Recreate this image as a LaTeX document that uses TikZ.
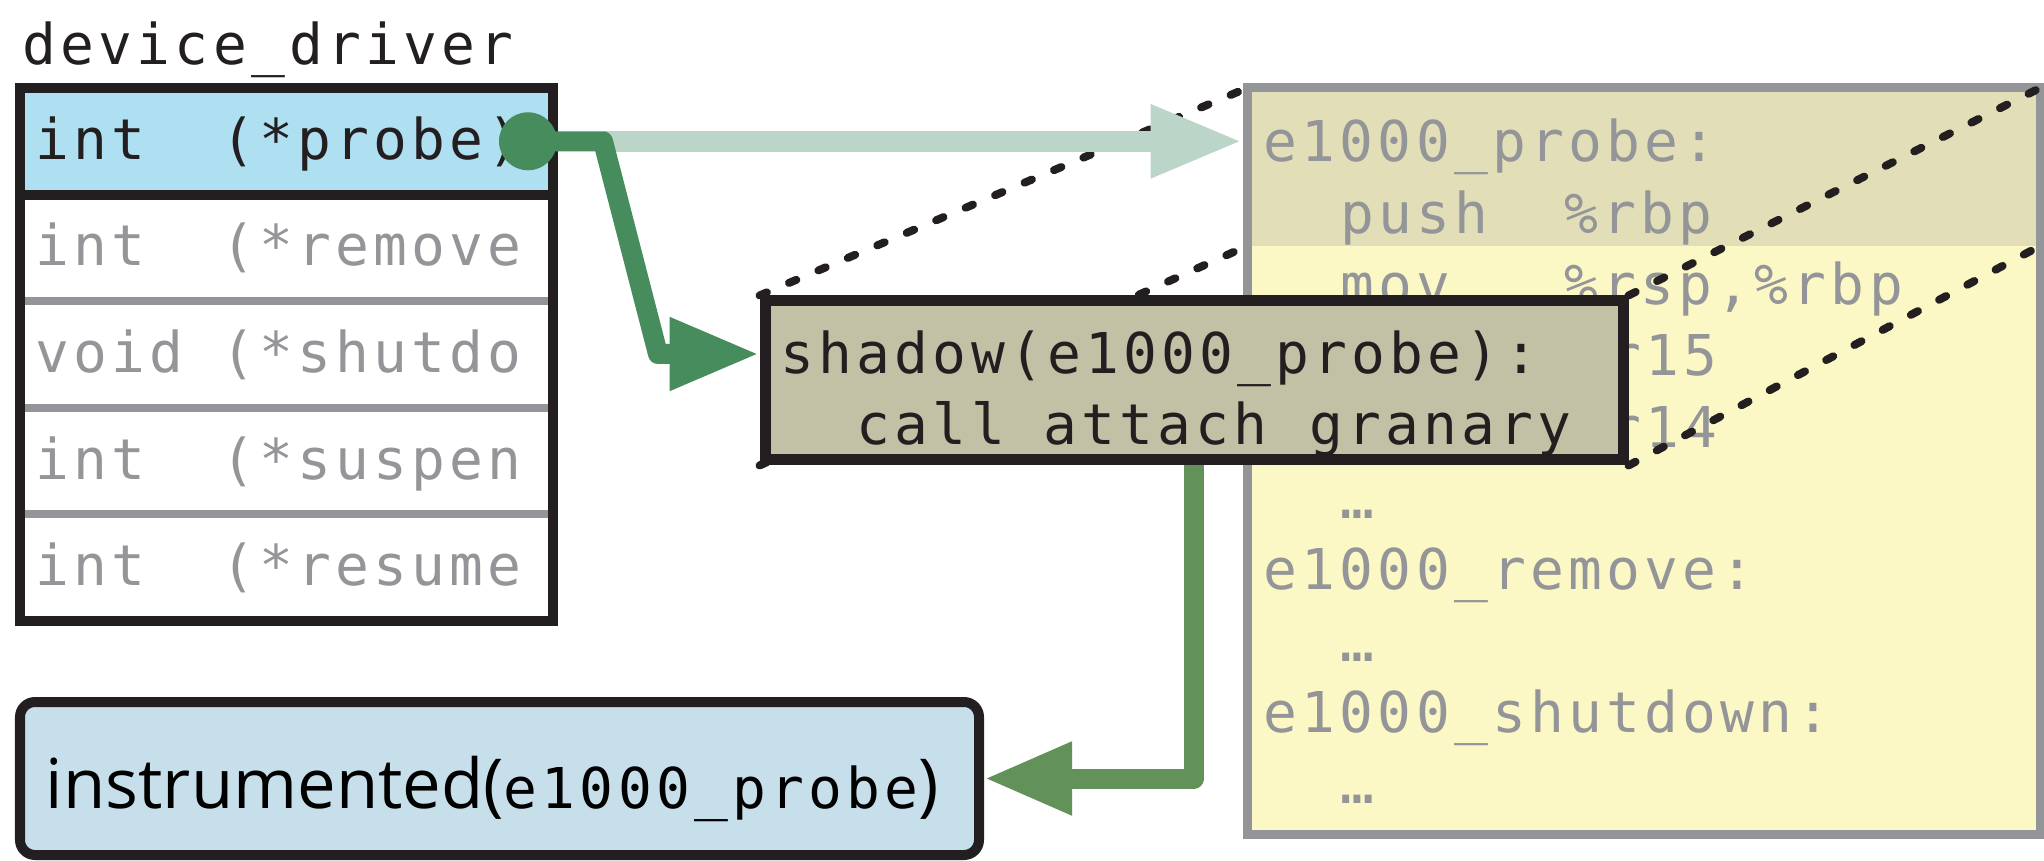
\documentclass[tikz,border=0pt]{standalone}
\usepackage{fontspec}
\usepackage{tikz}
\usetikzlibrary{arrows.meta, positioning}
\newfontfamily\codefont[LetterSpace=7.5]{DejaVu Sans Mono}
\newfontfamily\labelfont{Open Sans}
\definecolor{inkblack}{RGB}{35,31,32}
\definecolor{slotgray}{RGB}{147,149,152}
\definecolor{probeblue}{RGB}{174,224,241}
\definecolor{resultblue}{RGB}{198,223,234}
\definecolor{shadowtan}{RGB}{194,193,166}
\definecolor{asmkhaki}{RGB}{226,223,184}
\definecolor{asmyellow}{RGB}{252,248,197}
\definecolor{hookgreen}{RGB}{70,140,92}
\definecolor{palegreen}{RGB}{187,214,201}
\definecolor{backgreen}{RGB}{98,146,89}
\newcommand{\codesize}{\codefont\fontsize{16pt}{19pt}\selectfont\spaceskip=10.84pt\relax}

\begin{document}
\begin{tikzpicture}[
  slot/.style={
    fill=white,
    text=slotgray,
    outer sep=0pt,
    minimum width=5.33cm,
    minimum height=1.066cm,
    text width=5.03cm,
    align=flush left,
    inner xsep=0.15cm,
    inner ysep=0pt,
    text height=0.5cm,
    text depth=0.14cm,
    font=\codesize
  },
  frame/.style={draw=inkblack, line width=0.1cm},
  rule/.style={draw=slotgray, line width=0.08cm},
  plugdot/.style={circle, fill=hookgreen, minimum size=0.58cm, inner sep=0pt},
  codebox/.style={
    draw=slotgray,
    line width=0.09cm,
    fill=asmyellow,
    minimum width=7.93cm,
    minimum height=7.46cm,
    inner sep=0pt,
    path picture={\fill[asmkhaki] (path picture bounding box.north west)
      rectangle ([yshift=-1.58cm]path picture bounding box.north east);}
  },
  shadowbox/.style={
    draw=inkblack,
    line width=0.11cm,
    fill=shadowtan,
    minimum width=8.58cm,
    minimum height=1.59cm
  },
  resultbox/.style={
    draw=inkblack,
    line width=0.1cm,
    fill=resultblue,
    rounded corners=0.15cm,
    minimum width=9.59cm,
    minimum height=1.53cm,
    text width=9.07cm,
    align=flush left,
    inner xsep=0.26cm,
    inner ysep=0pt,
    text height=0.62cm,
    text depth=0.03cm,
    font=\labelfont\fontsize{19.6pt}{23pt}\selectfont
  },
  asmline/.style={anchor=base west, inner sep=0pt, text=slotgray, font=\codesize},
  shadowline/.style={anchor=base west, inner sep=0pt, text=inkblack, font=\codesize},
  probelink/.style={draw=hookgreen, line width=0.2cm, line join=round,
    -{Triangle[length=0.9cm, width=0.68cm]}},
  palelink/.style={draw=palegreen, line width=0.21cm,
    -{Triangle[length=0.92cm, width=0.68cm]}},
  backlink/.style={draw=backgreen, line width=0.2cm, line join=round,
    -{Triangle[length=0.88cm, width=0.68cm]}},
  dotline/.style={draw=inkblack, line width=0.08cm, line cap=round,
    dash pattern=on 0.08cm off 0.24cm}
]
  \useasboundingbox (0,0) rectangle (20.44,8.6);

  % struct with its function pointers
  \node[anchor=base west, inner sep=0pt, text=inkblack, font=\codesize] (title) at (0.22,7.95) {device\_driver};
  \node[slot, fill=probeblue, text=inkblack] (probe) at (2.865,7.187) {int\ \ (*probe)};
  \node[slot, below=0pt of probe] (remove) {int\ \ (*remove};
  \node[slot, below=0pt of remove] (shutdown) {void (*shutdo};
  \node[slot, below=0pt of shutdown] (suspend) {int\ \ (*suspen};
  \node[slot, below=0pt of suspend] (resume) {int\ \ (*resume};
  \draw[rule] (remove.north west) -- (remove.north east);
  \draw[rule] (shutdown.north west) -- (shutdown.north east);
  \draw[rule] (suspend.north west) -- (suspend.north east);
  \draw[rule] (resume.north west) -- (resume.north east);
  \draw[frame] (probe.south west) -- (probe.south east);
  \draw[frame] (probe.north west) rectangle (resume.south east);

  % driver code, one line per row, indent in columns
  \node[codebox] (code) at (16.435,3.99) {};
  \foreach \col/\asm [count=\k from 0] in {0/e1000\_probe:, 2/push\ \ \%rbp,
      2/{mov\ \ \ \%rsp,\%rbp}, 8/\%r15, 8/\%r14,
      2/…, 0/e1000\_remove:, 2/…, 0/e1000\_shutdown:, 2/…}
    \node[asmline] (asm\k) at ({12.63+0.3823*\col},{6.98-0.713*\k}) {\asm};
  \coordinate (band-nw) at (12.47,7.72);
  \coordinate (band-ne) at (20.40,7.72);
  \coordinate (band-sw) at (12.47,6.14);
  \coordinate (band-se) at (20.40,6.14);

  \node[shadowbox] (shadow) at (11.94,4.795) {};
  \draw[dotline] (shadow.north west) -- (band-nw);
  \draw[dotline] (shadow.north east) -- (band-ne);
  \draw[dotline] (shadow.south west) -- (band-sw);
  \draw[dotline] (shadow.south east) -- (band-se);
  \node[shadowbox] (shadow) at (11.94,4.795) {};
  \node[shadowline] (shadow1) at (7.80,4.86) {shadow(e1000\_probe):};
  \node[shadowline] (shadow2) at (7.80,4.15) {\ \ call attach\_granary};

  \node[resultbox] (instr) at (4.995,0.815) {instrumented({\codesize e1000\_probe})};

  % hooks
  \node[plugdot] (plug) at (5.28,7.187) {};
  \coordinate (bend1) at (6.03,7.187);
  \coordinate (bend2) at (6.58,5.06);
  \draw[palelink] (bend1) -- (bend1 -| code.west);
  \draw[probelink] (plug.center) -- (bend1) -- (bend2) -- (bend2 -| shadow.west);
  \draw[backlink] (shadow.south) |- (instr.east);
\end{tikzpicture}
\end{document}
